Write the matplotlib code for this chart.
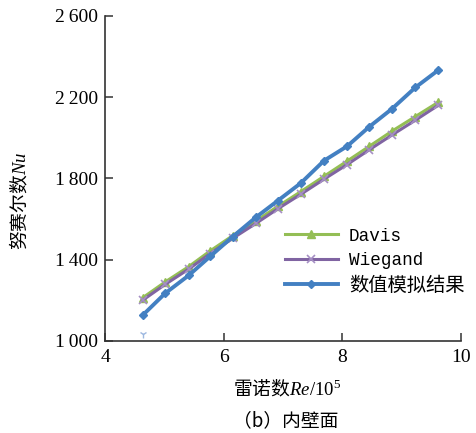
import matplotlib
matplotlib.use("Agg")
import matplotlib.pyplot as plt
from matplotlib.ticker import FixedLocator, FuncFormatter

plt.rcParams["mathtext.fontset"] = "custom"
plt.rcParams["mathtext.it"] = "Liberation Serif:italic"
plt.rcParams["mathtext.rm"] = "Liberation Serif"
plt.rcParams["mathtext.bf"] = "Liberation Serif:bold"

# ---- data ----
re_vals = [4.63, 5.01, 5.41, 5.77, 6.15, 6.54, 6.91, 7.30, 7.69, 8.08, 8.45, 8.84, 9.23, 9.62]
nu_davis = [1212, 1290, 1366, 1443, 1518, 1590, 1662, 1735, 1810, 1885, 1957, 2033, 2104, 2175]
nu_wiegand = [1200, 1278, 1354, 1430, 1505, 1578, 1650, 1722, 1796, 1868, 1940, 2014, 2086, 2160]
nu_sim = [1126, 1234, 1323, 1416, 1513, 1608, 1690, 1777, 1887, 1958, 2053, 2143, 2247, 2333]
stray_x = [4.63]
stray_y = [1035]

x_ticks = [4, 6, 8, 10]
y_ticks = [1000, 1400, 1800, 2200, 2600]
legend_labels = ["Davis", "Wiegand", "数值模拟结果"]

c_green = "#94BE55"
c_purple = "#8064A2"
c_blue = "#4380C2"

serif = ["Liberation Serif", "DejaVu Serif"]
cjk = ["Noto Sans CJK SC", "DejaVu Sans"]

fig = plt.figure(figsize=(4.77, 4.33), dpi=100)
ax = fig.add_axes([0.2205, 0.2125, 0.7460, 0.7512])

ax.plot(re_vals, nu_davis, color=c_green, lw=2.2, marker="^", ms=5.5,
        mec=c_green, mfc=c_green, label=legend_labels[0], zorder=3)
ax.plot(re_vals, nu_wiegand, color=c_purple, lw=2.2, marker="x", ms=6, mew=1.2,
        mec="#A58FC4", label=legend_labels[1], zorder=3)
ax.plot(re_vals, nu_sim, color=c_blue, lw=2.8, marker="D", ms=4.5,
        mec=c_blue, mfc=c_blue, label=legend_labels[2], zorder=4)
ax.plot(stray_x, stray_y, ls="none", marker="1", ms=6, color="#9DB8E0", zorder=2)

ax.set_xlim(4, 10)
ax.set_ylim(1000, 2600)
ax.xaxis.set_major_locator(FixedLocator(x_ticks))
ax.yaxis.set_major_locator(FixedLocator(y_ticks))
ax.yaxis.set_major_formatter(FuncFormatter(lambda v, p: f"{int(v):,}".replace(",", "\u2009")))
ax.xaxis.set_major_formatter(FuncFormatter(lambda v, p: f"{int(v)}"))

for s in ["top", "right"]:
    ax.spines[s].set_visible(False)
for s in ["left", "bottom"]:
    ax.spines[s].set_linewidth(1.2)
    ax.spines[s].set_color("#333333")
ax.tick_params(direction="in", length=6, width=1.1, color="#333333", pad=5)
for lab in ax.get_xticklabels() + ax.get_yticklabels():
    lab.set_fontfamily(serif)
    lab.set_fontsize(14)
ax.tick_params(axis="x", pad=6)

leg = fig.legend(*ax.get_legend_handles_labels(), loc="center left",
                 bbox_to_anchor=(0.597, 0.397), frameon=False, borderpad=0,
                 borderaxespad=0, handlelength=2.75, handletextpad=0.57,
                 labelspacing=0.36,
                 prop={"family": ["Liberation Mono", "Noto Sans CJK SC"], "size": 13.9})
for t in leg.get_texts()[:2]:
    t.set_fontsize(12.7)

fig.text(0.042, 0.535, "努赛尔数$\\mathit{Nu}$", rotation=90, ha="center", va="center",
         fontsize=13.5, family=cjk)
fig.text(0.602, 0.099, "雷诺数$\\mathit{Re}/\\mathrm{10}^{5}$", ha="center", va="center",
         fontsize=13.5, family=cjk)
fig.text(0.598, 0.028, "（b）内壁面", ha="center", va="center", fontsize=13.5, family=cjk)

fig.savefig("out.png", dpi=100)
